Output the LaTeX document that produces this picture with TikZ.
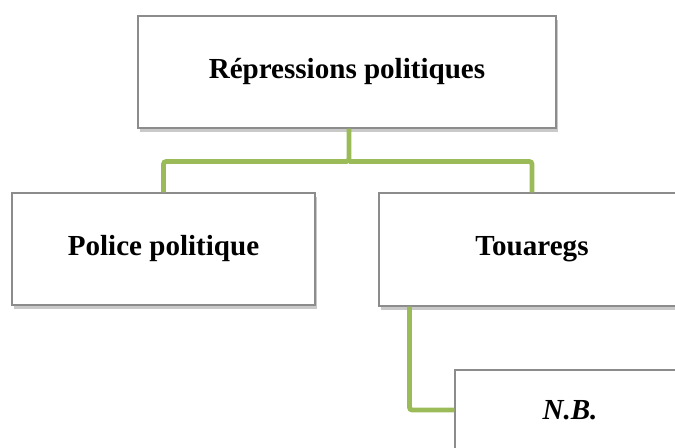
\documentclass[tikz,border=0pt]{standalone}
\usepackage{fontspec}
\setmainfont{Liberation Serif}
\usepackage{xcolor}
\usepackage{tikz}
\usetikzlibrary{calc,shadows}
\definecolor{frame}{HTML}{8C8C8C}
\definecolor{leaf}{HTML}{9BBB59}
\tikzset{
  box/.style={draw=frame, line width=0.8pt, fill=white, rectangle,
    font=\fontsize{21.8}{25}\selectfont\bfseries,
    drop shadow={shadow xshift=1.2pt, shadow yshift=-2.8pt, opacity=0.3, fill=black!70}},
  link/.style={draw=leaf, line width=3.6pt, rounded corners=2pt},
}

\begin{document}
\begin{tikzpicture}[x=0.75pt, y=-0.75pt]
  \useasboundingbox (0,0) rectangle (675,448);
  \clip (0,0) rectangle (675,448);
  \node[box, minimum width=418*0.75pt, minimum height=112*0.75pt] (rep) at (347,72) {Répressions politiques};
  \node[box, minimum width=303*0.75pt, minimum height=112*0.75pt] (pol) at (163.5,249) {Police politique};
  \node[box, minimum width=306*0.75pt, minimum height=113*0.75pt] (tou) at (532,249.5) {Touaregs};
  \node[box, minimum width=230*0.75pt, minimum height=80*0.75pt] (nb) at (570,410) {\itshape N.B.};
  \coordinate (fork) at ($(rep.south)+(2,33)$);
  \draw[link] ($(rep.south)+(2,0)$) -- (fork) -| (pol.north);
  \draw[link] (fork) -| ($(tou.north)$);
  \draw[link] ($(tou.south west)+(31,0)$) |- (nb.west);
\end{tikzpicture}
\end{document}
